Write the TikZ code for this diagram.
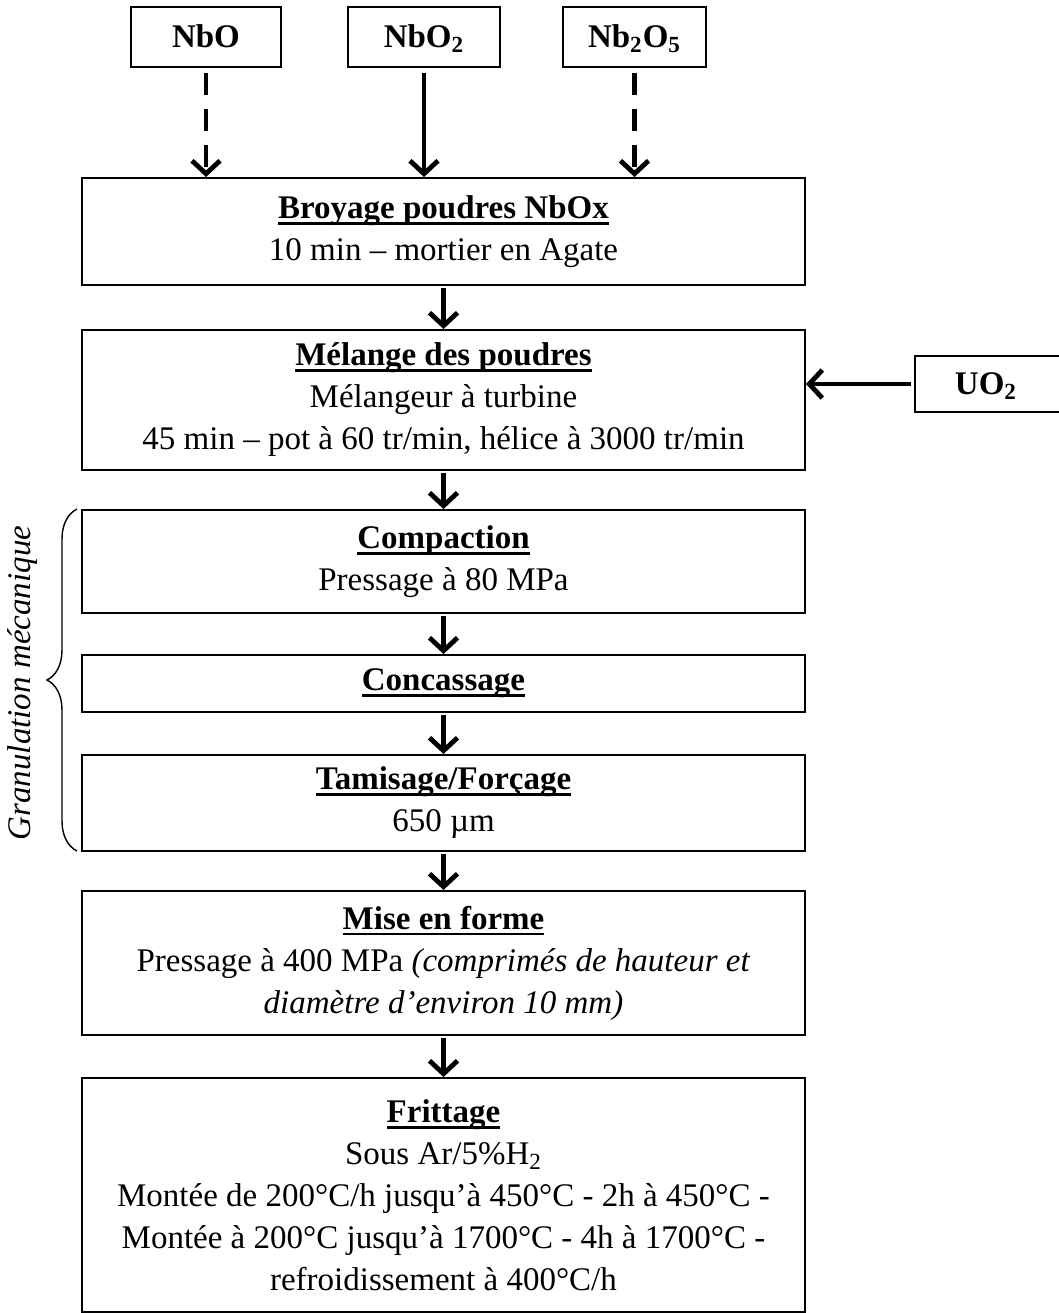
\documentclass[tikz,border=0pt]{standalone}
\usepackage{fontspec}
\setmainfont{Liberation Serif}
\usetikzlibrary{arrows.meta,decorations.pathreplacing}
\newcommand\fsz{\fontsize{16.5pt}{21pt}\selectfont}
\newcommand\ttl[1]{\setbox0=\hbox{\bfseries #1}\leavevmode\rlap{\rule[-3.1pt]{\wd0}{1.4pt}}\box0}
\tikzset{
  box/.style={draw, line width=1pt, minimum width=361.5pt, inner sep=0pt, align=center, font=\fsz},
  srcbox/.style={draw, line width=1pt, minimum height=30pt, inner sep=0pt, text height=12pt, text depth=1.2pt, font=\fsz\bfseries},
  arr/.style={line width=2.4pt, -{Straight Barb[length=6.5pt,width=14pt]}},
  dasharr/.style={arr, dash pattern=on 11pt off 7pt},
}
\begin{document}
\begin{tikzpicture}[x=0.5pt,y=-0.5pt]
\useasboundingbox (0,0) rectangle (1059,1313);
% source boxes
\node[srcbox, minimum width=75pt] (nbo) at (206,37) {NbO};
\node[srcbox, minimum width=76pt] (nbo2) at (424,37) {NbO\textsubscript{2}};
\node[srcbox, minimum width=71.5pt] (nb2o5) at (634.5,37) {Nb\textsubscript{2}O\textsubscript{5}};
% main boxes
\node[box, minimum height=53.5pt] (broyage) at (443.5,231.5)
  {\ttl{Broyage poudres NbOx}\\ 10 min – mortier en Agate};
\node[box, minimum height=70pt] (melange) at (443.5,400)
  {\ttl{Mélange des poudres}\\ Mélangeur à turbine\\ 45 min – pot à 60 tr/min, hélice à 3000 tr/min};
\node[box, minimum height=51.5pt] (compaction) at (443.5,561.5)
  {\ttl{Compaction}\\ Pressage à 80 MPa};
\node[box, minimum height=28.5pt] (concassage) at (443.5,683.5)
  {\ttl{Concassage}};
\node[box, minimum height=48pt] (tamisage) at (443.5,803)
  {\ttl{Tamisage/Forçage}\\ 650 µm};
\node[box, minimum height=72pt] (mise) at (443.5,963)
  {\ttl{Mise en forme}\\ Pressage à 400 MPa \textit{(comprimés de hauteur et}\\ \textit{diamètre d’environ 10 mm)}};
\node[box, minimum height=117pt] (frittage) at (443.5,1195)
  {\ttl{Frittage}\\ Sous Ar/5\%H\textsubscript{2}\\ Montée de 200°C/h jusqu’à 450°C - 2h à 450°C -\\ Montée à 200°C jusqu’à 1700°C - 4h à 1700°C -\\ refroidissement à 400°C/h};
% UO2 box (right side runs off the page)
\node[inner sep=0pt, minimum width=71pt, minimum height=27.5pt, text height=12pt, text depth=1.2pt, font=\fsz\bfseries] (uo2) at (986,384) {UO\textsubscript{2}};
\draw[line width=1pt] ([xshift=12pt]uo2.north east) -- (uo2.north west) -- (uo2.south west) -- ([xshift=12pt]uo2.south east);
% arrows
\draw[dasharr] ([yshift=-2.5pt]nbo.south) -- (nbo.south |- broyage.north);
\draw[arr] ([yshift=-2.5pt]nbo2.south) -- (nbo2.south |- broyage.north);
\draw[dasharr] ([yshift=-2.5pt]nb2o5.south) -- (nb2o5.south |- broyage.north);
\draw[arr] ([yshift=-1pt]broyage.south) -- (melange.north);
\draw[arr] ([xshift=-2pt]uo2.west) -- (uo2.west -| melange.east);
\draw[arr] ([yshift=-1pt]melange.south) -- (compaction.north);
\draw[arr] ([yshift=-1pt]compaction.south) -- (concassage.north);
\draw[arr] ([yshift=-1pt]concassage.south) -- (tamisage.north);
\draw[arr] ([yshift=-1pt]tamisage.south) -- (mise.north);
\draw[arr] ([yshift=-1pt]mise.south) -- (frittage.north);
% brace
\coordinate (bt) at (77,509);
\coordinate (bb) at (77,851);
\draw[line width=0.7pt, decorate, decoration={brace, amplitude=15pt}] (bb) -- (bt);
\node[rotate=90, font=\fsz\itshape, inner sep=0pt] (gran) at (23,683) {Granulation mécanique};
\end{tikzpicture}
\end{document}
